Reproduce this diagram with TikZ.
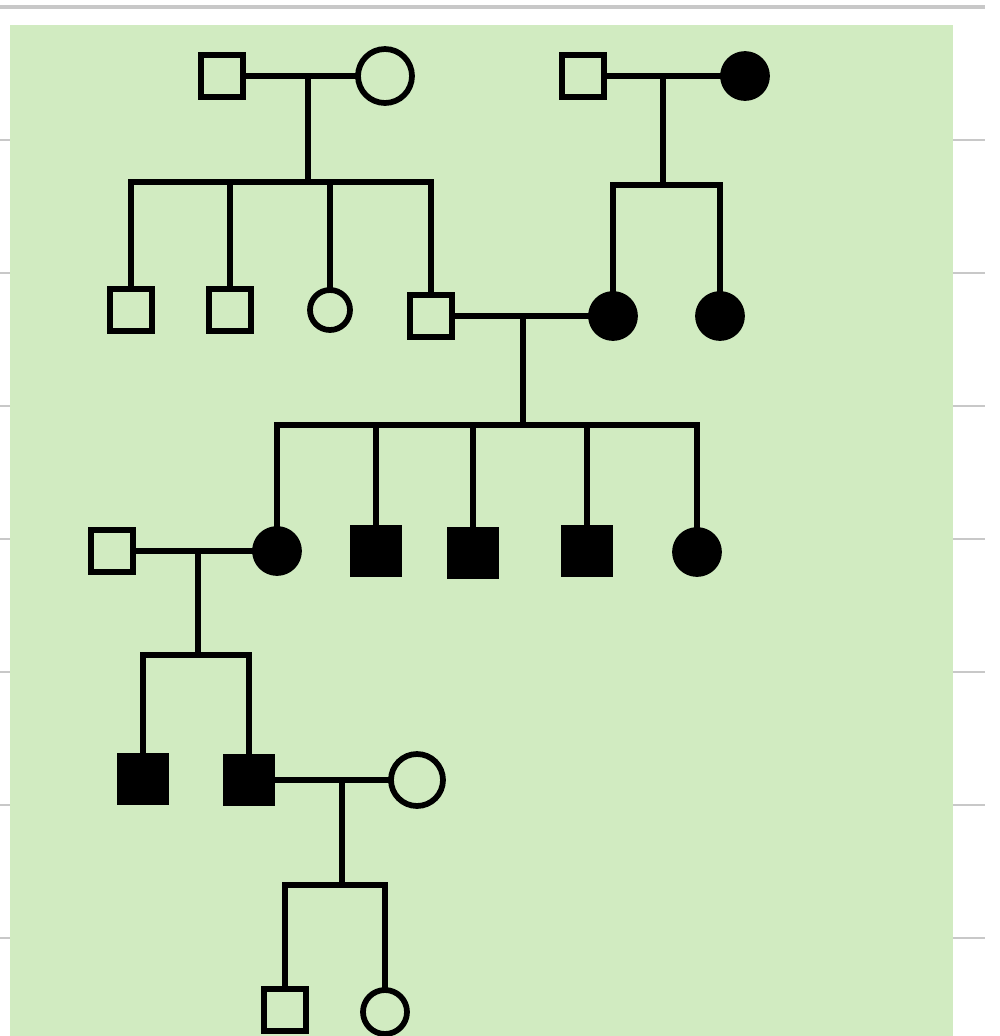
\documentclass[tikz,border=0pt]{standalone}
\usetikzlibrary{calc}
\definecolor{panel}{RGB}{209,235,193}
\definecolor{rule}{RGB}{200,200,200}
\tikzset{
  px/.style={x=0.02cm,y=-0.02cm},
  lw/.style={line width=0.115cm},
  sq/.style={draw,lw,rectangle,minimum size=0.85cm,inner sep=0pt,fill=none},
  fsq/.style={draw,lw,rectangle,minimum size=0.92cm,inner sep=0pt,fill=black},
  ci/.style={draw,lw,circle,minimum size=#1,inner sep=0pt},
  fci/.style={draw,lw,circle,minimum size=0.88cm,inner sep=0pt,fill=black},
  link/.style={lw,line cap=rect}
}
\begin{document}
\begin{tikzpicture}[px]
\useasboundingbox (0,0) rectangle (1000,1036);
\fill[white] (0,0) rectangle (1000,1036);
% grey grid lines
\draw[rule,line width=0.08cm] (0,7) -- (985,7);
\foreach \y in {140,273,406,539,672,805,938}
  \draw[rule,line width=0.05cm] (0,\y) -- (985,\y);
% green panel
\fill[panel] (10,25) rectangle (953,1036);

% Generation I
\node[sq] (a) at (222,76) {};
\node[ci=1.08cm] (b) at (385,76) {};
\node[sq] (c) at (583,76) {};
\node[fci] (d) at (745,76) {};
% Generation II
\node[sq] (e1) at (131,310) {};
\node[sq] (e2) at (230,310) {};
\node[ci=0.8cm] (e3) at (330,310) {};
\node[sq] (e4) at (431,316) {};
\node[fci] (f1) at (613,316) {};
\node[fci] (f2) at (720,316) {};
% Generation III
\node[sq] (g0) at (112,551) {};
\node[fci] (g1) at (277,551) {};
\node[fsq] (g2) at (376,551) {};
\node[fsq] (g3) at (473,553) {};
\node[fsq] (g4) at (587,551) {};
\node[fci] (g5) at (697,552) {};
% Generation IV
\node[fsq] (h1) at (143,779) {};
\node[fsq] (h2) at (249,780) {};
\node[ci=1.04cm] (h3) at (417,780) {};
% Generation V
\node[sq] (k1) at (285,1010) {};
\node[ci=0.88cm] (k2) at (385,1012) {};

% couple 1
\coordinate (m1) at (308,76);
\coordinate (s1) at (308,182);
\draw[link] (a) -- (b);
\draw[link] (m1) -- (s1);
\draw[link] (e1.north) |- (e4 |- s1) -- (e4.north);
\draw[link] (e2.north) -- (e2 |- s1);
\draw[link] (e3.north) -- (e3 |- s1);
% couple 2
\coordinate (m2) at (663,76);
\coordinate (s2) at (663,185);
\draw[link] (c) -- (d);
\draw[link] (m2) -- (s2);
\draw[link] (f1.north) |- (f2 |- s2) -- (f2.north);
% couple 3
\coordinate (m3) at (523,316);
\coordinate (s3) at (523,425);
\draw[link] (e4) -- (f1);
\draw[link] (m3) -- (s3);
\draw[link] (g1.north) |- (g5 |- s3) -- (g5.north);
\draw[link] (g2.north) -- (g2 |- s3);
\draw[link] (g3.north) -- (g3 |- s3);
\draw[link] (g4.north) -- (g4 |- s3);
% couple 4
\coordinate (m4) at (198,551);
\coordinate (s4) at (198,655);
\draw[link] (g0) -- (g1);
\draw[link] (m4) -- (s4);
\draw[link] (h1.north) |- (h2 |- s4) -- (h2.north);
% couple 5
\coordinate (m5) at (342,780);
\coordinate (s5) at (342,885);
\draw[link] (h2) -- (h3);
\draw[link] (m5) -- (s5);
\draw[link] (k1.north) |- (k2 |- s5) -- (k2.north);
\end{tikzpicture}
\end{document}
